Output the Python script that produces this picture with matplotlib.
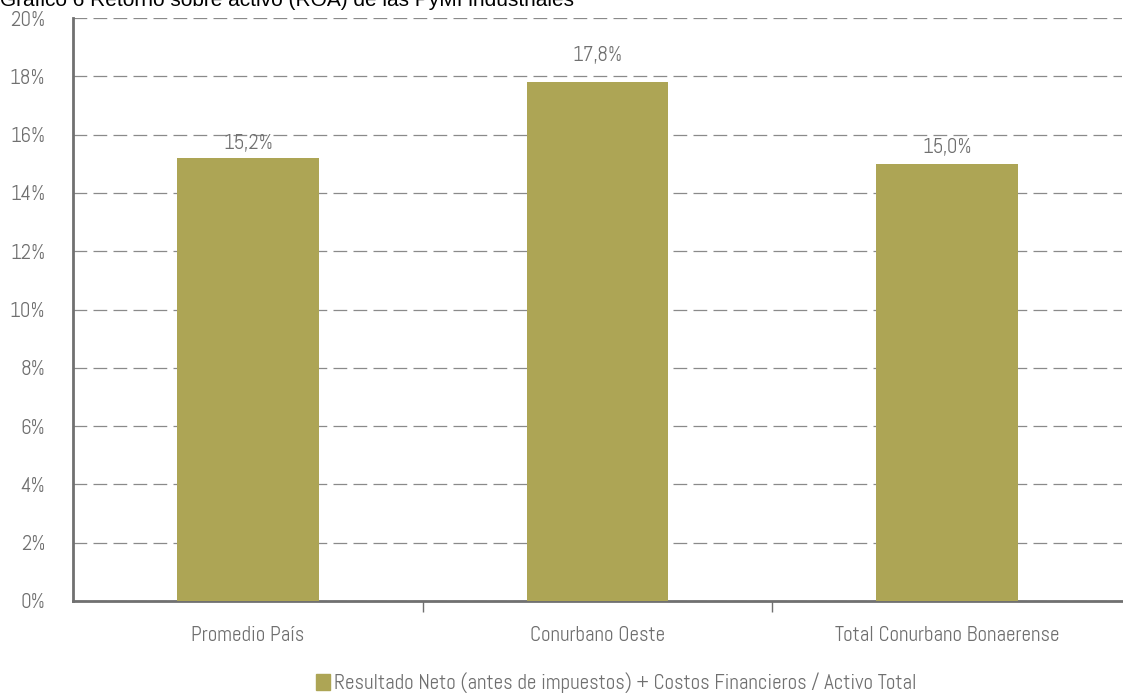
import matplotlib.pyplot as plt
from matplotlib.patches import Patch
import numpy as np

categories = ['Promedio País', 'Conurbano Oeste', 'Total Conurbano Bonaerense']
values = [15.2, 17.8, 15.0]
value_labels = ['15,2%', '17,8%', '15,0%']
label_offsets = [0.5, 0.93, 0.55]
yticks = [0, 2, 4, 6, 8, 10, 12, 14, 16, 18, 20]
legend_label = 'Resultado Neto (antes de impuestos) + Costos Financieros / Activo Total'
title = 'Gráfico 6 Retorno sobre activo (ROA) de las PyMI industriales'

bar_color = '#ada555'
txt_color = '#707070'
narrow = ['Abel', 'Liberation Sans Narrow', 'DejaVu Sans']

W, H = 1123, 693
fig = plt.figure(figsize=(W / 100, H / 100), dpi=100)
ax = fig.add_axes([73 / W, 1 - 601 / H, (1122 - 73) / W, (601 - 18) / H])

x = np.arange(len(categories))
ax.bar(x, values, width=0.405, color=bar_color, zorder=3)
ax.set_xlim(-0.5, len(categories) - 0.5)
ax.set_ylim(0, 20)

# value labels above bars
for xi, v, lab, off in zip(x, values, value_labels, label_offsets):
    ax.text(xi, v + off, lab, ha='center', va='center', fontsize=15,
            color=txt_color, family=narrow)

# grid
ax.set_yticks(yticks)
ax.set_yticklabels([f'{t}%' for t in yticks], family=narrow, fontsize=15, color=txt_color)
ax.yaxis.grid(True, linestyle=(0, (11, 5)), color='#8a8a8a', linewidth=0.9, zorder=0)
ax.tick_params(axis='y', length=0, pad=20)

# category separator ticks
ax.set_xticks([0.5, 1.5])
ax.set_xticklabels([])
ax.tick_params(axis='x', length=8, width=1, color='#707070', direction='out')
for xi, c in zip(x, categories):
    ax.text(xi, -1.2, c, ha='center', va='center', fontsize=15,
            color=txt_color, family=narrow)

for s in ['top', 'right']:
    ax.spines[s].set_visible(False)
for s in ['left', 'bottom']:
    ax.spines[s].set_color('#707070')
    ax.spines[s].set_linewidth(2)

# legend
leg = fig.legend(handles=[Patch(color=bar_color, label=legend_label)],
                 loc='center', bbox_to_anchor=(0.549, 1 - 683 / H), frameon=False,
                 handlelength=0.65, handleheight=0.85, handletextpad=0.2,
                 prop={'family': narrow, 'size': 15})
for t in leg.get_texts():
    t.set_color(txt_color)

# title cut off at the top, as in the source
fig.text(0.0, 1 - 6 / H, title, ha='left', va='baseline', fontsize=15,
         family='Liberation Sans', color='black')

fig.savefig('out.png', dpi=100)
